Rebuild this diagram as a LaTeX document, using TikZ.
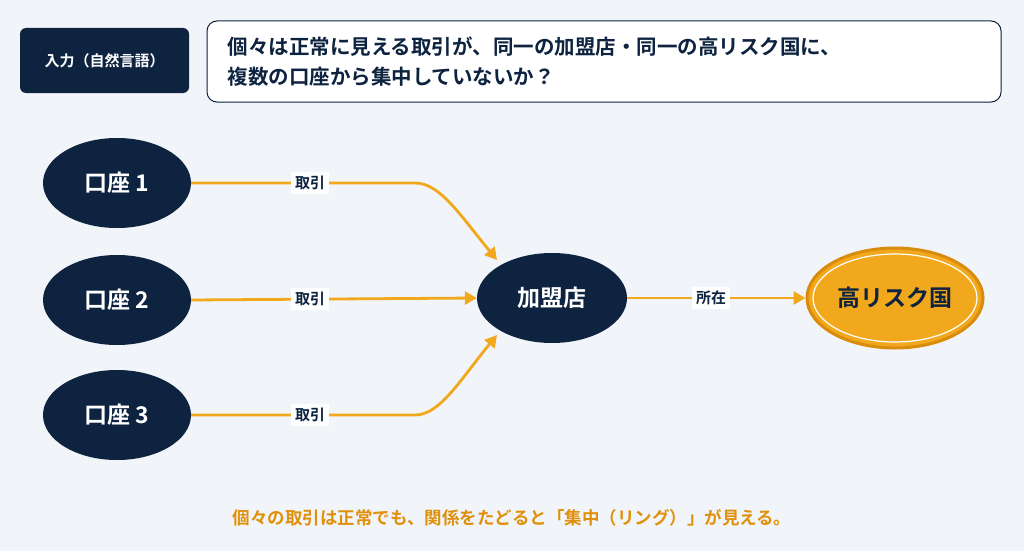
\documentclass[tikz,border=0pt]{standalone}
\usepackage{fontspec}
\setmainfont{Noto Sans CJK JP}[BoldFont={Noto Sans CJK JP Bold}]
\usetikzlibrary{shapes.geometric,arrows.meta}
\definecolor{bg}{HTML}{F1F4F9}
\definecolor{navy}{HTML}{0D2340}
\definecolor{org}{HTML}{F2A81D}
\definecolor{orgd}{HTML}{D98C0A}
\definecolor{orgt}{HTML}{E0900A}
\begin{document}
\begin{tikzpicture}[x=1pt,y=-1pt,
  acc/.style={ellipse,fill=navy,minimum width=148pt,minimum height=90pt,text=white,font=\fontsize{23}{23}\selectfont\bfseries},
  edge/.style={draw=org,line width=2.8pt,-{Triangle[length=12pt,width=13pt]}},
  lbl/.style={fill=white,text=navy,font=\fontsize{15}{15}\selectfont\bfseries,inner sep=4pt},
  conn/.style={draw=org,line width=2.8pt}]
\fill[bg] (0,0) rectangle (1024,551);
\useasboundingbox (0,0) rectangle (1024,551);
\node[fill=navy,rounded corners=6pt,minimum width=169pt,minimum height=65pt,text=white,font=\fontsize{15}{15}\selectfont\bfseries] (in) at (104.5,60.5) {入力（自然言語）};
\node[draw=navy,line width=1pt,fill=white,rounded corners=10pt,minimum width=794pt,minimum height=81pt] (q) at (604,61.5) {};
\node[anchor=west,align=left,text=navy,font=\fontsize{20.5}{30}\selectfont\bfseries] (qt) at (224,62) {個々は正常に見える取引が、同一の加盟店・同一の高リスク国に、\\複数の口座から集中していないか？};
\node[acc] (a1) at (117,183) {口座 1};
\node[acc] (a2) at (117,300) {口座 2};
\node[acc] (a3) at (117,415) {口座 3};
\node[acc,minimum width=150pt] (m) at (552,298) {加盟店};
\node[ellipse,fill=org,draw=orgd,line width=3pt,minimum width=176pt,minimum height=100pt] (r) at (895,298) {};
\draw[white,line width=1.2pt] (895,298) ellipse (82pt and 44pt);
\node[text=navy,font=\fontsize{23}{23}\selectfont\bfseries] (rt) at (895,298) {高リスク国};
\coordinate (c1) at (415,183);
\coordinate (c3) at (415,415);
\coordinate (e1) at (497,260);
\coordinate (e3) at (497,335);
\draw[edge] (a1.east) -- (c1) .. controls (440,183) and (460,215) .. (e1);
\draw[edge] (a2.east) -- (m.west);
\draw[edge] (a3.east) -- (c3) .. controls (440,415) and (460,380) .. (e3);
\node[lbl] (l1) at (310,183) {取引};
\node[lbl] (l2) at (310,299) {取引};
\node[lbl] (l3) at (310,415) {取引};
\draw[edge] (m.east) -- (r.west);
\node[lbl] (l4) at (711,298) {所在};
\node[text=orgt,font=\fontsize{17.5}{17.5}\selectfont\bfseries] (note) at (512,518) {個々の取引は正常でも、関係をたどると「集中（リング）」が見える。};
\end{tikzpicture}
\end{document}
